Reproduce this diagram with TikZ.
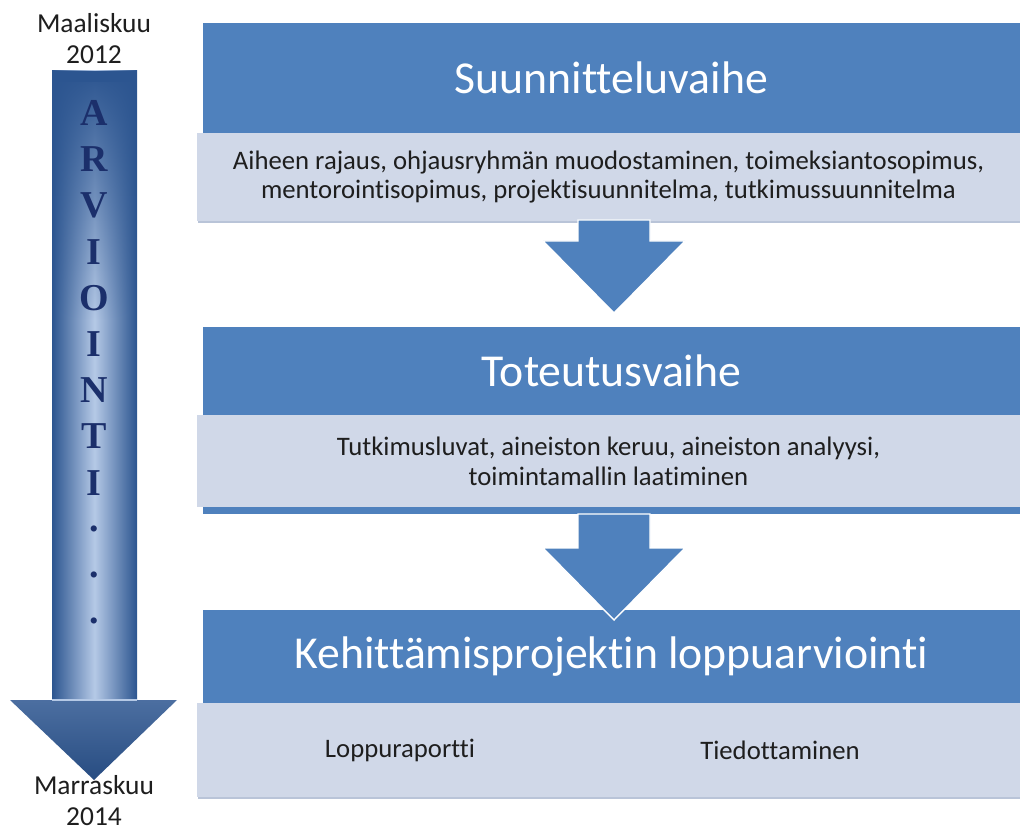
\documentclass[tikz,border=0pt]{standalone}
\usepackage{fontspec}
\setmainfont{Carlito}[Ligatures=NoCommon]
\newfontfamily\letterfont{Liberation Serif}
\usetikzlibrary{calc,fadings}

\definecolor{bandblue}{HTML}{4F81BD}
\definecolor{paleblue}{HTML}{D0D8E8}
\definecolor{paleedge}{HTML}{B9C4D8}
\definecolor{navy}{HTML}{1B2F6B}
\definecolor{darkarrow}{HTML}{2C5590}
\definecolor{lightarrow}{HTML}{B5C9E6}
\definecolor{textgray}{HTML}{1E1E1E}

\tikzset{
    band/.style={fill=bandblue, text=white, inner sep=0pt, minimum width=20.425cm,
        font=\fontsize{32.5}{38}\selectfont},
    desc/.style={fill=paleblue, text=textgray, inner sep=0pt, minimum width=20.575cm,
        align=center, font=\fontsize{19}{21.3}\selectfont},
    letter/.style={text=navy, inner sep=0pt, font=\letterfont\bfseries\fontsize{27}{27}\selectfont},
    datelabel/.style={text=textgray, align=center, font=\fontsize{19.5}{22}\selectfont},
    blockarrow/.style={fill=bandblue, draw=white, line width=1pt, line join=miter},
}

\begin{document}
\begin{tikzpicture}[x=0.025cm, y=-0.025cm]
    \useasboundingbox (0,0) rectangle (1020,833);

    % phases
    \node[band, minimum height=2.75cm] (plan) at (611.5,78) {Suunnitteluvaihe};
    \draw[paleedge, line width=1.5pt] (198,222) -- (1020,222);
    \node[desc, minimum height=2.2cm] (plantasks) at (608.5,177)
        {Aiheen rajaus, ohjausryhmän muodostaminen, toimeksiantosopimus,\\
         mentorointisopimus, projektisuunnitelma, tutkimussuunnitelma};

    \node[band, minimum height=2.2cm] (work) at (611.5,371) {Toteutusvaihe};
    \fill[bandblue] (203,505) rectangle (1020,514);
    \node[desc, minimum height=2.3cm] (worktasks) at (608.5,461)
        {Tutkimusluvat, aineiston keruu, aineiston analyysi,\\
         toimintamallin laatiminen};

    \node[band, minimum height=2.325cm] (final) at (611.5,656.5) {Kehittämisprojektin loppuarviointi};
    \draw[paleedge, line width=1.5pt] (198,798) -- (1020,798);
    \node[desc, minimum height=2.35cm] (finaltasks) at (608.5,750) {};
    \node[desc, minimum width=0cm] (report) at (400,750) {Loppuraportti};
    \node[desc, minimum width=0cm] (inform) at (780,750) {Tiedottaminen};

    % block arrows between phases
    \coordinate (top1) at (614,220);
    \coordinate (tip1) at (614,313);
    \coordinate (top2) at (614,514);
    \coordinate (tip2) at (614,620);
    \foreach \s/\t in {top1/tip1, top2/tip2}
        \filldraw[blockarrow] ($(\s)+(-36,0)$) -- ($(\s)+(36,0)$) -- ($(\t)+(36,-72)$)
            -- ($(\t)+(71,-72)$) -- (\t) -- ($(\t)+(-71,-72)$) -- ($(\t)+(-36,-72)$) -- cycle;

    % evaluation arrow
    \shade[left color=darkarrow, right color=darkarrow, middle color=lightarrow]
        (52,71) rectangle (137,700);
    \fill[darkarrow, path fading=south] (52,71) rectangle (137,320);
    \fill[darkarrow] (52,71) rectangle (137,82);
    \shade[top color=darkarrow!85!white, bottom color=darkarrow!90!black]
        (10,700) -- (177,700) -- (94,780) -- cycle;
    \draw[lightarrow, line width=1.2pt] (52,700) -- (137,700);

    \foreach \ch [count=\i from 0] in {A,R,V,I,O,I,N,T,I,.,.,.}
        \node[letter] (ev\i) at (94,{113+46.2*\i}) {\ch};

    \node[datelabel] (start) at (94,38.5) {Maaliskuu\\2012};
    \node[datelabel] (end) at (94,801) {Marraskuu\\2014};
\end{tikzpicture}
\end{document}
